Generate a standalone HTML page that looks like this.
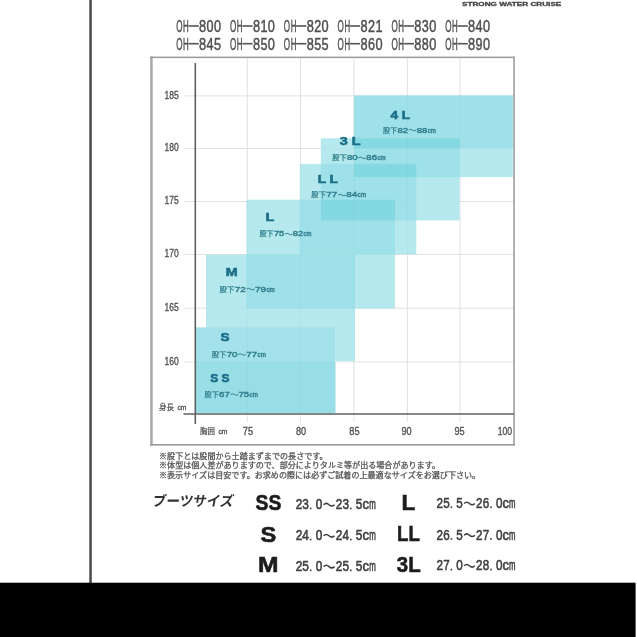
<!DOCTYPE html>
<html><head><meta charset="utf-8"><title>size chart</title>
<style>
html,body{margin:0;padding:0;background:#fff;}
body{width:637px;height:637px;overflow:hidden;}
svg{display:block;font-family:"Liberation Sans","Noto Sans CJK JP",sans-serif;}
</style></head><body>
<svg width="637" height="637" viewBox="0 0 637 637">
<g filter="url(#soft)">
<rect x="0" y="0" width="637" height="637" fill="#fff"/>
<line x1="247.3" y1="58.3" x2="247.3" y2="422.0" stroke="#e6e6e6" stroke-width="1"/>
<line x1="300.5" y1="58.3" x2="300.5" y2="422.0" stroke="#e6e6e6" stroke-width="1"/>
<line x1="353.9" y1="58.3" x2="353.9" y2="422.0" stroke="#e6e6e6" stroke-width="1"/>
<line x1="407.4" y1="58.3" x2="407.4" y2="422.0" stroke="#e6e6e6" stroke-width="1"/>
<line x1="460.0" y1="58.3" x2="460.0" y2="422.0" stroke="#e6e6e6" stroke-width="1"/>
<line x1="184.3" y1="95.9" x2="514.0" y2="95.9" stroke="#e6e6e6" stroke-width="1"/>
<line x1="184.3" y1="148.5" x2="514.0" y2="148.5" stroke="#e6e6e6" stroke-width="1"/>
<line x1="184.3" y1="201.5" x2="514.0" y2="201.5" stroke="#e6e6e6" stroke-width="1"/>
<line x1="184.3" y1="254.5" x2="514.0" y2="254.5" stroke="#e6e6e6" stroke-width="1"/>
<line x1="184.3" y1="308.2" x2="514.0" y2="308.2" stroke="#e6e6e6" stroke-width="1"/>
<line x1="184.3" y1="361.9" x2="514.0" y2="361.9" stroke="#e6e6e6" stroke-width="1"/>
<rect x="354.0" y="95.7" width="158.8" height="81.4" fill="#b5e9ee"/>
<rect x="320.8" y="138.3" width="138.8" height="82.1" fill="#b5e9ee"/>
<rect x="299.8" y="163.9" width="116.5" height="90.5" fill="#b5e9ee"/>
<rect x="246.5" y="199.7" width="148.5" height="108.9" fill="#b5e9ee"/>
<rect x="206.0" y="254.6" width="149.0" height="106.4" fill="#b5e9ee"/>
<rect x="354.0" y="95.7" width="158.8" height="52.5" fill="#b5e9ee"/>
<rect x="354.0" y="138.3" width="105.6" height="38.8" fill="#9fe1e9"/>
<rect x="354.0" y="163.9" width="62.3" height="13.2" fill="#9fe1e9"/>
<rect x="354.0" y="95.7" width="158.8" height="52.5" fill="#9fe1e9"/>
<rect x="320.8" y="163.9" width="95.5" height="56.5" fill="#9fe1e9"/>
<rect x="320.8" y="199.7" width="74.2" height="20.7" fill="#9fe1e9"/>
<rect x="354.0" y="138.3" width="105.6" height="9.9" fill="#9fe1e9"/>
<rect x="299.8" y="199.7" width="95.2" height="54.7" fill="#9fe1e9"/>
<rect x="246.5" y="254.6" width="108.5" height="54.0" fill="#9fe1e9"/>
<rect x="354.0" y="163.9" width="62.3" height="13.2" fill="#84d8e2"/>
<rect x="354.0" y="138.3" width="105.6" height="9.9" fill="#84d8e2"/>
<rect x="320.8" y="199.7" width="74.2" height="20.7" fill="#84d8e2"/>
<rect x="196" y="327.4" width="139" height="34.6" fill="#a3e2ea"/>
<rect x="196" y="361.8" width="139.5" height="51.5" fill="#99dee7"/>
<line x1="247.3" y1="58.3" x2="247.3" y2="414.0" stroke="#5b8f9c" stroke-opacity="0.05" stroke-width="1"/>
<line x1="300.5" y1="58.3" x2="300.5" y2="414.0" stroke="#5b8f9c" stroke-opacity="0.05" stroke-width="1"/>
<line x1="353.9" y1="58.3" x2="353.9" y2="414.0" stroke="#5b8f9c" stroke-opacity="0.05" stroke-width="1"/>
<line x1="407.4" y1="58.3" x2="407.4" y2="414.0" stroke="#5b8f9c" stroke-opacity="0.05" stroke-width="1"/>
<line x1="460.0" y1="58.3" x2="460.0" y2="414.0" stroke="#5b8f9c" stroke-opacity="0.05" stroke-width="1"/>
<line x1="195.3" y1="95.9" x2="514.0" y2="95.9" stroke="#5b8f9c" stroke-opacity="0.04" stroke-width="1"/>
<line x1="195.3" y1="148.5" x2="514.0" y2="148.5" stroke="#5b8f9c" stroke-opacity="0.04" stroke-width="1"/>
<line x1="195.3" y1="201.5" x2="514.0" y2="201.5" stroke="#5b8f9c" stroke-opacity="0.04" stroke-width="1"/>
<line x1="195.3" y1="254.5" x2="514.0" y2="254.5" stroke="#5b8f9c" stroke-opacity="0.04" stroke-width="1"/>
<line x1="195.3" y1="308.2" x2="514.0" y2="308.2" stroke="#5b8f9c" stroke-opacity="0.04" stroke-width="1"/>
<line x1="195.3" y1="361.9" x2="514.0" y2="361.9" stroke="#5b8f9c" stroke-opacity="0.04" stroke-width="1"/>
<rect x="150.2" y="56.6" width="2.5" height="389" fill="#a8a8a8"/>
<rect x="150.2" y="56.6" width="364.6" height="1.5" fill="#9a9a9a"/>
<rect x="513.2" y="56.6" width="1.7" height="389" fill="#a4a4a4"/>
<rect x="150.2" y="444.0" width="364.6" height="1.6" fill="#999"/>
<line x1="195.3" y1="63" x2="195.3" y2="424" stroke="#606060" stroke-width="1.6"/>
<line x1="183.5" y1="414.0" x2="514.0" y2="414.0" stroke="#606060" stroke-width="1.6"/>
<text x="164.5" y="98.5" font-size="11" fill="#505050" textLength="14.2" lengthAdjust="spacingAndGlyphs" text-anchor="start" stroke="#505050" stroke-width="0.35">185</text>
<text x="164.5" y="151.1" font-size="11" fill="#505050" textLength="14.2" lengthAdjust="spacingAndGlyphs" text-anchor="start" stroke="#505050" stroke-width="0.35">180</text>
<text x="164.5" y="204.1" font-size="11" fill="#505050" textLength="14.2" lengthAdjust="spacingAndGlyphs" text-anchor="start" stroke="#505050" stroke-width="0.35">175</text>
<text x="164.5" y="257.1" font-size="11" fill="#505050" textLength="14.2" lengthAdjust="spacingAndGlyphs" text-anchor="start" stroke="#505050" stroke-width="0.35">170</text>
<text x="164.5" y="310.8" font-size="11" fill="#505050" textLength="14.2" lengthAdjust="spacingAndGlyphs" text-anchor="start" stroke="#505050" stroke-width="0.35">165</text>
<text x="164.5" y="364.5" font-size="11" fill="#505050" textLength="14.2" lengthAdjust="spacingAndGlyphs" text-anchor="start" stroke="#505050" stroke-width="0.35">160</text>
<text x="242.8" y="434.7" font-size="11" fill="#505050" textLength="10.2" lengthAdjust="spacingAndGlyphs" text-anchor="start" stroke="#505050" stroke-width="0.35">75</text>
<text x="295.9" y="434.7" font-size="11" fill="#505050" textLength="10.2" lengthAdjust="spacingAndGlyphs" text-anchor="start" stroke="#505050" stroke-width="0.35">80</text>
<text x="349.3" y="434.7" font-size="11" fill="#505050" textLength="10.2" lengthAdjust="spacingAndGlyphs" text-anchor="start" stroke="#505050" stroke-width="0.35">85</text>
<text x="401.5" y="434.7" font-size="11" fill="#505050" textLength="10.2" lengthAdjust="spacingAndGlyphs" text-anchor="start" stroke="#505050" stroke-width="0.35">90</text>
<text x="454.5" y="434.7" font-size="11" fill="#505050" textLength="10.2" lengthAdjust="spacingAndGlyphs" text-anchor="start" stroke="#505050" stroke-width="0.35">95</text>
<text x="497.7" y="434.6" font-size="11" fill="#505050" textLength="14.4" lengthAdjust="spacingAndGlyphs" text-anchor="start" stroke="#505050" stroke-width="0.35">100</text>
<text x="159" y="409.6" font-size="7.8" fill="#505050" stroke="#505050" stroke-width="0.2" textLength="15" lengthAdjust="spacingAndGlyphs" font-family="'Liberation Sans','Noto Sans CJK JP',sans-serif">身長</text>
<text x="177.5" y="409.6" font-size="7" fill="#505050" textLength="9" lengthAdjust="spacingAndGlyphs" text-anchor="start" stroke="#505050" stroke-width="0.3">cm</text>
<text x="200" y="434" font-size="7.8" fill="#505050" stroke="#505050" stroke-width="0.2" textLength="15" lengthAdjust="spacingAndGlyphs" font-family="'Liberation Sans','Noto Sans CJK JP',sans-serif">胸囲</text>
<text x="218.5" y="434" font-size="7" fill="#505050" textLength="9" lengthAdjust="spacingAndGlyphs" text-anchor="start" stroke="#505050" stroke-width="0.3">cm</text>
<text x="390.5" y="118.8" font-size="11.2" fill="#1d6f88" textLength="19.6" lengthAdjust="spacingAndGlyphs" font-weight="700" text-anchor="start" stroke="#1d6f88" stroke-width="0.6">4 L</text>
<text x="382.9" y="132.5" font-size="7" fill="#35808f" stroke="#35808f" stroke-width="0.25" textLength="14.2" lengthAdjust="spacingAndGlyphs" font-family="'Liberation Sans','Noto Sans CJK JP',sans-serif">股下</text>
<text x="397.4" y="132.5" font-size="7.4" fill="#35808f" textLength="10.6" lengthAdjust="spacingAndGlyphs" text-anchor="start" stroke="#35808f" stroke-width="0.45">82</text>
<path d="M408.72 130.10 q1.92 -1.6 3.85 0 t3.85 0" fill="none" stroke="#35808f" stroke-width="1"/>
<text x="416.7" y="132.5" font-size="7.4" fill="#35808f" textLength="10.6" lengthAdjust="spacingAndGlyphs" text-anchor="start" stroke="#35808f" stroke-width="0.45">88</text>
<text x="427.7" y="132.5" font-size="6.6" fill="#35808f" textLength="8.0" lengthAdjust="spacingAndGlyphs" text-anchor="start" stroke="#35808f" stroke-width="0.45">cm</text>
<text x="339.8" y="145.2" font-size="11.2" fill="#1d6f88" textLength="20.8" lengthAdjust="spacingAndGlyphs" font-weight="700" text-anchor="start" stroke="#1d6f88" stroke-width="0.6">3 L</text>
<text x="332.2" y="160.2" font-size="7" fill="#35808f" stroke="#35808f" stroke-width="0.25" textLength="14.4" lengthAdjust="spacingAndGlyphs" font-family="'Liberation Sans','Noto Sans CJK JP',sans-serif">股下</text>
<text x="346.9" y="160.2" font-size="7.4" fill="#35808f" textLength="10.7" lengthAdjust="spacingAndGlyphs" text-anchor="start" stroke="#35808f" stroke-width="0.45">80</text>
<path d="M358.26 157.80 q1.94 -1.6 3.88 0 t3.88 0" fill="none" stroke="#35808f" stroke-width="1"/>
<text x="366.3" y="160.2" font-size="7.4" fill="#35808f" textLength="10.7" lengthAdjust="spacingAndGlyphs" text-anchor="start" stroke="#35808f" stroke-width="0.45">86</text>
<text x="377.4" y="160.2" font-size="6.6" fill="#35808f" textLength="8.1" lengthAdjust="spacingAndGlyphs" text-anchor="start" stroke="#35808f" stroke-width="0.45">cm</text>
<text x="317.7" y="183.3" font-size="11.2" fill="#1d6f88" textLength="20.3" lengthAdjust="spacingAndGlyphs" font-weight="700" text-anchor="start" stroke="#1d6f88" stroke-width="0.6">L L</text>
<text x="311.3" y="197.4" font-size="7" fill="#35808f" stroke="#35808f" stroke-width="0.25" textLength="14.7" lengthAdjust="spacingAndGlyphs" font-family="'Liberation Sans','Noto Sans CJK JP',sans-serif">股下</text>
<text x="326.3" y="197.4" font-size="7.4" fill="#35808f" textLength="11.0" lengthAdjust="spacingAndGlyphs" text-anchor="start" stroke="#35808f" stroke-width="0.45">77</text>
<path d="M337.98 195.00 q1.99 -1.6 3.98 0 t3.98 0" fill="none" stroke="#35808f" stroke-width="1"/>
<text x="346.2" y="197.4" font-size="7.4" fill="#35808f" textLength="11.0" lengthAdjust="spacingAndGlyphs" text-anchor="start" stroke="#35808f" stroke-width="0.45">84</text>
<text x="357.6" y="197.4" font-size="6.6" fill="#35808f" textLength="8.3" lengthAdjust="spacingAndGlyphs" text-anchor="start" stroke="#35808f" stroke-width="0.45">cm</text>
<text x="265.5" y="221.2" font-size="11.2" fill="#1d6f88" textLength="8.8" lengthAdjust="spacingAndGlyphs" font-weight="700" text-anchor="start" stroke="#1d6f88" stroke-width="0.6">L</text>
<text x="259.6" y="236.4" font-size="7" fill="#35808f" stroke="#35808f" stroke-width="0.25" textLength="14" lengthAdjust="spacingAndGlyphs" font-family="'Liberation Sans','Noto Sans CJK JP',sans-serif">股下</text>
<text x="273.9" y="236.4" font-size="7.4" fill="#35808f" textLength="10.4" lengthAdjust="spacingAndGlyphs" text-anchor="start" stroke="#35808f" stroke-width="0.45">75</text>
<path d="M284.99 234.00 q1.89 -1.6 3.78 0 t3.78 0" fill="none" stroke="#35808f" stroke-width="1"/>
<text x="292.8" y="236.4" font-size="7.4" fill="#35808f" textLength="10.4" lengthAdjust="spacingAndGlyphs" text-anchor="start" stroke="#35808f" stroke-width="0.45">82</text>
<text x="303.6" y="236.4" font-size="6.6" fill="#35808f" textLength="7.9" lengthAdjust="spacingAndGlyphs" text-anchor="start" stroke="#35808f" stroke-width="0.45">cm</text>
<text x="225.7" y="276.3" font-size="11.2" fill="#1d6f88" textLength="11.9" lengthAdjust="spacingAndGlyphs" font-weight="700" text-anchor="start" stroke="#1d6f88" stroke-width="0.6">M</text>
<text x="219.6" y="291.5" font-size="7" fill="#35808f" stroke="#35808f" stroke-width="0.25" textLength="14.8" lengthAdjust="spacingAndGlyphs" font-family="'Liberation Sans','Noto Sans CJK JP',sans-serif">股下</text>
<text x="234.8" y="291.5" font-size="7.4" fill="#35808f" textLength="11.1" lengthAdjust="spacingAndGlyphs" text-anchor="start" stroke="#35808f" stroke-width="0.45">72</text>
<path d="M246.57 289.10 q2.01 -1.6 4.02 0 t4.02 0" fill="none" stroke="#35808f" stroke-width="1"/>
<text x="254.9" y="291.5" font-size="7.4" fill="#35808f" textLength="11.1" lengthAdjust="spacingAndGlyphs" text-anchor="start" stroke="#35808f" stroke-width="0.45">79</text>
<text x="266.4" y="291.5" font-size="6.6" fill="#35808f" textLength="8.4" lengthAdjust="spacingAndGlyphs" text-anchor="start" stroke="#35808f" stroke-width="0.45">cm</text>
<text x="220.4" y="341.2" font-size="11.2" fill="#1d6f88" textLength="9.0" lengthAdjust="spacingAndGlyphs" font-weight="700" text-anchor="start" stroke="#1d6f88" stroke-width="0.6">S</text>
<text x="211.8" y="356.9" font-size="7" fill="#35808f" stroke="#35808f" stroke-width="0.25" textLength="14.6" lengthAdjust="spacingAndGlyphs" font-family="'Liberation Sans','Noto Sans CJK JP',sans-serif">股下</text>
<text x="226.7" y="356.9" font-size="7.4" fill="#35808f" textLength="10.8" lengthAdjust="spacingAndGlyphs" text-anchor="start" stroke="#35808f" stroke-width="0.45">70</text>
<path d="M238.20 354.50 q1.97 -1.6 3.93 0 t3.93 0" fill="none" stroke="#35808f" stroke-width="1"/>
<text x="246.3" y="356.9" font-size="7.4" fill="#35808f" textLength="10.8" lengthAdjust="spacingAndGlyphs" text-anchor="start" stroke="#35808f" stroke-width="0.45">77</text>
<text x="257.6" y="356.9" font-size="6.6" fill="#35808f" textLength="8.2" lengthAdjust="spacingAndGlyphs" text-anchor="start" stroke="#35808f" stroke-width="0.45">cm</text>
<text x="210.2" y="382.1" font-size="11.2" fill="#1d6f88" textLength="19.2" lengthAdjust="spacingAndGlyphs" font-weight="700" text-anchor="start" stroke="#1d6f88" stroke-width="0.6">S S</text>
<text x="204.5" y="396.9" font-size="7" fill="#35808f" stroke="#35808f" stroke-width="0.25" textLength="14.4" lengthAdjust="spacingAndGlyphs" font-family="'Liberation Sans','Noto Sans CJK JP',sans-serif">股下</text>
<text x="219.1" y="396.9" font-size="7.4" fill="#35808f" textLength="10.7" lengthAdjust="spacingAndGlyphs" text-anchor="start" stroke="#35808f" stroke-width="0.45">67</text>
<path d="M230.51 394.50 q1.94 -1.6 3.88 0 t3.88 0" fill="none" stroke="#35808f" stroke-width="1"/>
<text x="238.5" y="396.9" font-size="7.4" fill="#35808f" textLength="10.7" lengthAdjust="spacingAndGlyphs" text-anchor="start" stroke="#35808f" stroke-width="0.45">75</text>
<text x="249.6" y="396.9" font-size="6.6" fill="#35808f" textLength="8.1" lengthAdjust="spacingAndGlyphs" text-anchor="start" stroke="#35808f" stroke-width="0.45">cm</text>
<text x="176.20" y="31.8" font-size="16.6" fill="#505050" stroke="#505050" stroke-width="0.5" textLength="6.30" lengthAdjust="spacingAndGlyphs">O</text><text x="183.05" y="31.8" font-size="16.6" fill="#505050" stroke="#505050" stroke-width="0.5" textLength="5.70" lengthAdjust="spacingAndGlyphs">H</text><rect x="188.50" y="25.20" width="10.30" height="1.6" fill="#555"/><text x="199.10" y="31.8" font-size="16.6" fill="#505050" stroke="#505050" stroke-width="0.5" textLength="7.10" lengthAdjust="spacingAndGlyphs">8</text><text x="206.60" y="31.8" font-size="16.6" fill="#505050" stroke="#505050" stroke-width="0.5" textLength="7.00" lengthAdjust="spacingAndGlyphs">0</text><text x="214.00" y="31.8" font-size="16.6" fill="#505050" stroke="#505050" stroke-width="0.5" textLength="7.10" lengthAdjust="spacingAndGlyphs">0</text>
<text x="230.00" y="31.8" font-size="16.6" fill="#505050" stroke="#505050" stroke-width="0.5" textLength="6.30" lengthAdjust="spacingAndGlyphs">O</text><text x="236.85" y="31.8" font-size="16.6" fill="#505050" stroke="#505050" stroke-width="0.5" textLength="5.70" lengthAdjust="spacingAndGlyphs">H</text><rect x="242.30" y="25.20" width="10.30" height="1.6" fill="#555"/><text x="252.90" y="31.8" font-size="16.6" fill="#505050" stroke="#505050" stroke-width="0.5" textLength="7.10" lengthAdjust="spacingAndGlyphs">8</text><text x="260.40" y="31.8" font-size="16.6" fill="#505050" stroke="#505050" stroke-width="0.5" textLength="7.00" lengthAdjust="spacingAndGlyphs">1</text><text x="267.80" y="31.8" font-size="16.6" fill="#505050" stroke="#505050" stroke-width="0.5" textLength="7.10" lengthAdjust="spacingAndGlyphs">0</text>
<text x="283.80" y="31.8" font-size="16.6" fill="#505050" stroke="#505050" stroke-width="0.5" textLength="6.30" lengthAdjust="spacingAndGlyphs">O</text><text x="290.65" y="31.8" font-size="16.6" fill="#505050" stroke="#505050" stroke-width="0.5" textLength="5.70" lengthAdjust="spacingAndGlyphs">H</text><rect x="296.10" y="25.20" width="10.30" height="1.6" fill="#555"/><text x="306.70" y="31.8" font-size="16.6" fill="#505050" stroke="#505050" stroke-width="0.5" textLength="7.10" lengthAdjust="spacingAndGlyphs">8</text><text x="314.20" y="31.8" font-size="16.6" fill="#505050" stroke="#505050" stroke-width="0.5" textLength="7.00" lengthAdjust="spacingAndGlyphs">2</text><text x="321.60" y="31.8" font-size="16.6" fill="#505050" stroke="#505050" stroke-width="0.5" textLength="7.10" lengthAdjust="spacingAndGlyphs">0</text>
<text x="337.60" y="31.8" font-size="16.6" fill="#505050" stroke="#505050" stroke-width="0.5" textLength="6.30" lengthAdjust="spacingAndGlyphs">O</text><text x="344.45" y="31.8" font-size="16.6" fill="#505050" stroke="#505050" stroke-width="0.5" textLength="5.70" lengthAdjust="spacingAndGlyphs">H</text><rect x="349.90" y="25.20" width="10.30" height="1.6" fill="#555"/><text x="360.50" y="31.8" font-size="16.6" fill="#505050" stroke="#505050" stroke-width="0.5" textLength="7.10" lengthAdjust="spacingAndGlyphs">8</text><text x="368.00" y="31.8" font-size="16.6" fill="#505050" stroke="#505050" stroke-width="0.5" textLength="7.00" lengthAdjust="spacingAndGlyphs">2</text><text x="375.40" y="31.8" font-size="16.6" fill="#505050" stroke="#505050" stroke-width="0.5" textLength="7.10" lengthAdjust="spacingAndGlyphs">1</text>
<text x="391.40" y="31.8" font-size="16.6" fill="#505050" stroke="#505050" stroke-width="0.5" textLength="6.30" lengthAdjust="spacingAndGlyphs">O</text><text x="398.25" y="31.8" font-size="16.6" fill="#505050" stroke="#505050" stroke-width="0.5" textLength="5.70" lengthAdjust="spacingAndGlyphs">H</text><rect x="403.70" y="25.20" width="10.30" height="1.6" fill="#555"/><text x="414.30" y="31.8" font-size="16.6" fill="#505050" stroke="#505050" stroke-width="0.5" textLength="7.10" lengthAdjust="spacingAndGlyphs">8</text><text x="421.80" y="31.8" font-size="16.6" fill="#505050" stroke="#505050" stroke-width="0.5" textLength="7.00" lengthAdjust="spacingAndGlyphs">3</text><text x="429.20" y="31.8" font-size="16.6" fill="#505050" stroke="#505050" stroke-width="0.5" textLength="7.10" lengthAdjust="spacingAndGlyphs">0</text>
<text x="445.20" y="31.8" font-size="16.6" fill="#505050" stroke="#505050" stroke-width="0.5" textLength="6.30" lengthAdjust="spacingAndGlyphs">O</text><text x="452.05" y="31.8" font-size="16.6" fill="#505050" stroke="#505050" stroke-width="0.5" textLength="5.70" lengthAdjust="spacingAndGlyphs">H</text><rect x="457.50" y="25.20" width="10.30" height="1.6" fill="#555"/><text x="468.10" y="31.8" font-size="16.6" fill="#505050" stroke="#505050" stroke-width="0.5" textLength="7.10" lengthAdjust="spacingAndGlyphs">8</text><text x="475.60" y="31.8" font-size="16.6" fill="#505050" stroke="#505050" stroke-width="0.5" textLength="7.00" lengthAdjust="spacingAndGlyphs">4</text><text x="483.00" y="31.8" font-size="16.6" fill="#505050" stroke="#505050" stroke-width="0.5" textLength="7.10" lengthAdjust="spacingAndGlyphs">0</text>
<text x="176.20" y="49.5" font-size="16.6" fill="#505050" stroke="#505050" stroke-width="0.5" textLength="6.30" lengthAdjust="spacingAndGlyphs">O</text><text x="183.05" y="49.5" font-size="16.6" fill="#505050" stroke="#505050" stroke-width="0.5" textLength="5.70" lengthAdjust="spacingAndGlyphs">H</text><rect x="188.50" y="42.90" width="10.30" height="1.6" fill="#555"/><text x="199.10" y="49.5" font-size="16.6" fill="#505050" stroke="#505050" stroke-width="0.5" textLength="7.10" lengthAdjust="spacingAndGlyphs">8</text><text x="206.60" y="49.5" font-size="16.6" fill="#505050" stroke="#505050" stroke-width="0.5" textLength="7.00" lengthAdjust="spacingAndGlyphs">4</text><text x="214.00" y="49.5" font-size="16.6" fill="#505050" stroke="#505050" stroke-width="0.5" textLength="7.10" lengthAdjust="spacingAndGlyphs">5</text>
<text x="230.00" y="49.5" font-size="16.6" fill="#505050" stroke="#505050" stroke-width="0.5" textLength="6.30" lengthAdjust="spacingAndGlyphs">O</text><text x="236.85" y="49.5" font-size="16.6" fill="#505050" stroke="#505050" stroke-width="0.5" textLength="5.70" lengthAdjust="spacingAndGlyphs">H</text><rect x="242.30" y="42.90" width="10.30" height="1.6" fill="#555"/><text x="252.90" y="49.5" font-size="16.6" fill="#505050" stroke="#505050" stroke-width="0.5" textLength="7.10" lengthAdjust="spacingAndGlyphs">8</text><text x="260.40" y="49.5" font-size="16.6" fill="#505050" stroke="#505050" stroke-width="0.5" textLength="7.00" lengthAdjust="spacingAndGlyphs">5</text><text x="267.80" y="49.5" font-size="16.6" fill="#505050" stroke="#505050" stroke-width="0.5" textLength="7.10" lengthAdjust="spacingAndGlyphs">0</text>
<text x="283.80" y="49.5" font-size="16.6" fill="#505050" stroke="#505050" stroke-width="0.5" textLength="6.30" lengthAdjust="spacingAndGlyphs">O</text><text x="290.65" y="49.5" font-size="16.6" fill="#505050" stroke="#505050" stroke-width="0.5" textLength="5.70" lengthAdjust="spacingAndGlyphs">H</text><rect x="296.10" y="42.90" width="10.30" height="1.6" fill="#555"/><text x="306.70" y="49.5" font-size="16.6" fill="#505050" stroke="#505050" stroke-width="0.5" textLength="7.10" lengthAdjust="spacingAndGlyphs">8</text><text x="314.20" y="49.5" font-size="16.6" fill="#505050" stroke="#505050" stroke-width="0.5" textLength="7.00" lengthAdjust="spacingAndGlyphs">5</text><text x="321.60" y="49.5" font-size="16.6" fill="#505050" stroke="#505050" stroke-width="0.5" textLength="7.10" lengthAdjust="spacingAndGlyphs">5</text>
<text x="337.60" y="49.5" font-size="16.6" fill="#505050" stroke="#505050" stroke-width="0.5" textLength="6.30" lengthAdjust="spacingAndGlyphs">O</text><text x="344.45" y="49.5" font-size="16.6" fill="#505050" stroke="#505050" stroke-width="0.5" textLength="5.70" lengthAdjust="spacingAndGlyphs">H</text><rect x="349.90" y="42.90" width="10.30" height="1.6" fill="#555"/><text x="360.50" y="49.5" font-size="16.6" fill="#505050" stroke="#505050" stroke-width="0.5" textLength="7.10" lengthAdjust="spacingAndGlyphs">8</text><text x="368.00" y="49.5" font-size="16.6" fill="#505050" stroke="#505050" stroke-width="0.5" textLength="7.00" lengthAdjust="spacingAndGlyphs">6</text><text x="375.40" y="49.5" font-size="16.6" fill="#505050" stroke="#505050" stroke-width="0.5" textLength="7.10" lengthAdjust="spacingAndGlyphs">0</text>
<text x="391.40" y="49.5" font-size="16.6" fill="#505050" stroke="#505050" stroke-width="0.5" textLength="6.30" lengthAdjust="spacingAndGlyphs">O</text><text x="398.25" y="49.5" font-size="16.6" fill="#505050" stroke="#505050" stroke-width="0.5" textLength="5.70" lengthAdjust="spacingAndGlyphs">H</text><rect x="403.70" y="42.90" width="10.30" height="1.6" fill="#555"/><text x="414.30" y="49.5" font-size="16.6" fill="#505050" stroke="#505050" stroke-width="0.5" textLength="7.10" lengthAdjust="spacingAndGlyphs">8</text><text x="421.80" y="49.5" font-size="16.6" fill="#505050" stroke="#505050" stroke-width="0.5" textLength="7.00" lengthAdjust="spacingAndGlyphs">8</text><text x="429.20" y="49.5" font-size="16.6" fill="#505050" stroke="#505050" stroke-width="0.5" textLength="7.10" lengthAdjust="spacingAndGlyphs">0</text>
<text x="445.20" y="49.5" font-size="16.6" fill="#505050" stroke="#505050" stroke-width="0.5" textLength="6.30" lengthAdjust="spacingAndGlyphs">O</text><text x="452.05" y="49.5" font-size="16.6" fill="#505050" stroke="#505050" stroke-width="0.5" textLength="5.70" lengthAdjust="spacingAndGlyphs">H</text><rect x="457.50" y="42.90" width="10.30" height="1.6" fill="#555"/><text x="468.10" y="49.5" font-size="16.6" fill="#505050" stroke="#505050" stroke-width="0.5" textLength="7.10" lengthAdjust="spacingAndGlyphs">8</text><text x="475.60" y="49.5" font-size="16.6" fill="#505050" stroke="#505050" stroke-width="0.5" textLength="7.00" lengthAdjust="spacingAndGlyphs">9</text><text x="483.00" y="49.5" font-size="16.6" fill="#505050" stroke="#505050" stroke-width="0.5" textLength="7.10" lengthAdjust="spacingAndGlyphs">0</text>
<text x="462" y="5.5" font-size="5.6" fill="#444" textLength="99.3" lengthAdjust="spacingAndGlyphs" font-weight="700" text-anchor="start" stroke="#444" stroke-width="0.3">STRONG WATER CRUISE</text>
<text x="159" y="459" font-size="7.5" fill="#505050" stroke="#505050" stroke-width="0.25" textLength="168.6" lengthAdjust="spacingAndGlyphs" font-family="'Liberation Sans','Noto Sans CJK JP',sans-serif">※股下とは股間から土踏まずまでの長さです。</text>
<text x="159" y="468.3" font-size="7.5" fill="#505050" stroke="#505050" stroke-width="0.25" textLength="281" lengthAdjust="spacingAndGlyphs" font-family="'Liberation Sans','Noto Sans CJK JP',sans-serif">※体型は個人差がありますので、部分によりタルミ等が出る場合があります。</text>
<text x="159" y="477.5" font-size="7.5" fill="#505050" stroke="#505050" stroke-width="0.25" textLength="321.2" lengthAdjust="spacingAndGlyphs" font-family="'Liberation Sans','Noto Sans CJK JP',sans-serif">※表示サイズは目安です。お求めの際には必ずご試着の上最適なサイズをお選び下さい。</text>
<text transform="translate(151.8 505.6) skewX(-10)" x="0" y="0" font-size="14" font-weight="700" fill="#333" textLength="81" lengthAdjust="spacingAndGlyphs" font-family="'Liberation Sans','Noto Sans CJK JP',sans-serif">ブーツサイズ</text>
<text x="255.6" y="510.4" font-size="22.6" fill="#1e1e1e" textLength="25.8" lengthAdjust="spacingAndGlyphs" font-weight="700" text-anchor="start" stroke="#1e1e1e" stroke-width="0.6">SS</text>
<text x="260.6" y="541.9" font-size="22.6" fill="#1e1e1e" textLength="15.8" lengthAdjust="spacingAndGlyphs" font-weight="700" text-anchor="start" stroke="#1e1e1e" stroke-width="0.6">S</text>
<text x="257.9" y="572.3" font-size="22.6" fill="#1e1e1e" textLength="20.5" lengthAdjust="spacingAndGlyphs" font-weight="700" text-anchor="start" stroke="#1e1e1e" stroke-width="0.6">M</text>
<text x="401.6" y="510.0" font-size="22.6" fill="#1e1e1e" textLength="13.8" lengthAdjust="spacingAndGlyphs" font-weight="700" text-anchor="start" stroke="#1e1e1e" stroke-width="0.6">L</text>
<text x="397.1" y="541.0" font-size="22.6" fill="#1e1e1e" textLength="22.8" lengthAdjust="spacingAndGlyphs" font-weight="700" text-anchor="start" stroke="#1e1e1e" stroke-width="0.6">LL</text>
<text x="396.8" y="571.9" font-size="22.6" fill="#1e1e1e" textLength="23.8" lengthAdjust="spacingAndGlyphs" font-weight="700" text-anchor="start" stroke="#1e1e1e" stroke-width="0.6">3L</text>
<text x="295.65" y="509.3" font-size="14.4" fill="#404040" stroke="#404040" stroke-width="0.6" textLength="6.58" lengthAdjust="spacingAndGlyphs">2</text><text x="302.33" y="509.3" font-size="14.4" fill="#404040" stroke="#404040" stroke-width="0.6" textLength="6.58" lengthAdjust="spacingAndGlyphs">3</text><rect x="309.87" y="507.60" width="1.6" height="1.7" fill="#404040"/><text x="315.70" y="509.3" font-size="14.4" fill="#404040" stroke="#404040" stroke-width="0.6" textLength="6.58" lengthAdjust="spacingAndGlyphs">0</text><path d="M323.53 504.70 q2.74 -2.6 5.48 0 t5.48 0" fill="none" stroke="#404040" stroke-width="1.5"/><text x="335.75" y="509.3" font-size="14.4" fill="#404040" stroke="#404040" stroke-width="0.6" textLength="6.58" lengthAdjust="spacingAndGlyphs">2</text><text x="342.43" y="509.3" font-size="14.4" fill="#404040" stroke="#404040" stroke-width="0.6" textLength="6.58" lengthAdjust="spacingAndGlyphs">3</text><rect x="349.97" y="507.60" width="1.6" height="1.7" fill="#404040"/><text x="355.80" y="509.3" font-size="14.4" fill="#404040" stroke="#404040" stroke-width="0.6" textLength="6.58" lengthAdjust="spacingAndGlyphs">5</text><text x="362.48" y="509.3" font-size="14.4" fill="#404040" stroke="#404040" stroke-width="0.6" textLength="6.58" lengthAdjust="spacingAndGlyphs">c</text><text x="369.17" y="509.3" font-size="14.4" fill="#404040" stroke="#404040" stroke-width="0.6" textLength="6.58" lengthAdjust="spacingAndGlyphs">m</text>
<text x="295.65" y="540.4" font-size="14.4" fill="#404040" stroke="#404040" stroke-width="0.6" textLength="6.58" lengthAdjust="spacingAndGlyphs">2</text><text x="302.33" y="540.4" font-size="14.4" fill="#404040" stroke="#404040" stroke-width="0.6" textLength="6.58" lengthAdjust="spacingAndGlyphs">4</text><rect x="309.87" y="538.70" width="1.6" height="1.7" fill="#404040"/><text x="315.70" y="540.4" font-size="14.4" fill="#404040" stroke="#404040" stroke-width="0.6" textLength="6.58" lengthAdjust="spacingAndGlyphs">0</text><path d="M323.53 535.80 q2.74 -2.6 5.48 0 t5.48 0" fill="none" stroke="#404040" stroke-width="1.5"/><text x="335.75" y="540.4" font-size="14.4" fill="#404040" stroke="#404040" stroke-width="0.6" textLength="6.58" lengthAdjust="spacingAndGlyphs">2</text><text x="342.43" y="540.4" font-size="14.4" fill="#404040" stroke="#404040" stroke-width="0.6" textLength="6.58" lengthAdjust="spacingAndGlyphs">4</text><rect x="349.97" y="538.70" width="1.6" height="1.7" fill="#404040"/><text x="355.80" y="540.4" font-size="14.4" fill="#404040" stroke="#404040" stroke-width="0.6" textLength="6.58" lengthAdjust="spacingAndGlyphs">5</text><text x="362.48" y="540.4" font-size="14.4" fill="#404040" stroke="#404040" stroke-width="0.6" textLength="6.58" lengthAdjust="spacingAndGlyphs">c</text><text x="369.17" y="540.4" font-size="14.4" fill="#404040" stroke="#404040" stroke-width="0.6" textLength="6.58" lengthAdjust="spacingAndGlyphs">m</text>
<text x="295.65" y="571.2" font-size="14.4" fill="#404040" stroke="#404040" stroke-width="0.6" textLength="6.58" lengthAdjust="spacingAndGlyphs">2</text><text x="302.33" y="571.2" font-size="14.4" fill="#404040" stroke="#404040" stroke-width="0.6" textLength="6.58" lengthAdjust="spacingAndGlyphs">5</text><rect x="309.87" y="569.50" width="1.6" height="1.7" fill="#404040"/><text x="315.70" y="571.2" font-size="14.4" fill="#404040" stroke="#404040" stroke-width="0.6" textLength="6.58" lengthAdjust="spacingAndGlyphs">0</text><path d="M323.53 566.60 q2.74 -2.6 5.48 0 t5.48 0" fill="none" stroke="#404040" stroke-width="1.5"/><text x="335.75" y="571.2" font-size="14.4" fill="#404040" stroke="#404040" stroke-width="0.6" textLength="6.58" lengthAdjust="spacingAndGlyphs">2</text><text x="342.43" y="571.2" font-size="14.4" fill="#404040" stroke="#404040" stroke-width="0.6" textLength="6.58" lengthAdjust="spacingAndGlyphs">5</text><rect x="349.97" y="569.50" width="1.6" height="1.7" fill="#404040"/><text x="355.80" y="571.2" font-size="14.4" fill="#404040" stroke="#404040" stroke-width="0.6" textLength="6.58" lengthAdjust="spacingAndGlyphs">5</text><text x="362.48" y="571.2" font-size="14.4" fill="#404040" stroke="#404040" stroke-width="0.6" textLength="6.58" lengthAdjust="spacingAndGlyphs">c</text><text x="369.17" y="571.2" font-size="14.4" fill="#404040" stroke="#404040" stroke-width="0.6" textLength="6.58" lengthAdjust="spacingAndGlyphs">m</text>
<text x="436.55" y="508.1" font-size="14.4" fill="#404040" stroke="#404040" stroke-width="0.6" textLength="6.49" lengthAdjust="spacingAndGlyphs">2</text><text x="443.14" y="508.1" font-size="14.4" fill="#404040" stroke="#404040" stroke-width="0.6" textLength="6.49" lengthAdjust="spacingAndGlyphs">5</text><rect x="450.58" y="506.40" width="1.6" height="1.7" fill="#404040"/><text x="456.32" y="508.1" font-size="14.4" fill="#404040" stroke="#404040" stroke-width="0.6" textLength="6.49" lengthAdjust="spacingAndGlyphs">5</text><path d="M464.07 503.50 q2.70 -2.6 5.39 0 t5.39 0" fill="none" stroke="#404040" stroke-width="1.5"/><text x="476.10" y="508.1" font-size="14.4" fill="#404040" stroke="#404040" stroke-width="0.6" textLength="6.49" lengthAdjust="spacingAndGlyphs">2</text><text x="482.69" y="508.1" font-size="14.4" fill="#404040" stroke="#404040" stroke-width="0.6" textLength="6.49" lengthAdjust="spacingAndGlyphs">6</text><rect x="490.13" y="506.40" width="1.6" height="1.7" fill="#404040"/><text x="495.88" y="508.1" font-size="14.4" fill="#404040" stroke="#404040" stroke-width="0.6" textLength="6.49" lengthAdjust="spacingAndGlyphs">0</text><text x="502.47" y="508.1" font-size="14.4" fill="#404040" stroke="#404040" stroke-width="0.6" textLength="6.49" lengthAdjust="spacingAndGlyphs">c</text><text x="509.06" y="508.1" font-size="14.4" fill="#404040" stroke="#404040" stroke-width="0.6" textLength="6.49" lengthAdjust="spacingAndGlyphs">m</text>
<text x="436.55" y="539.8" font-size="14.4" fill="#404040" stroke="#404040" stroke-width="0.6" textLength="6.49" lengthAdjust="spacingAndGlyphs">2</text><text x="443.14" y="539.8" font-size="14.4" fill="#404040" stroke="#404040" stroke-width="0.6" textLength="6.49" lengthAdjust="spacingAndGlyphs">6</text><rect x="450.58" y="538.10" width="1.6" height="1.7" fill="#404040"/><text x="456.32" y="539.8" font-size="14.4" fill="#404040" stroke="#404040" stroke-width="0.6" textLength="6.49" lengthAdjust="spacingAndGlyphs">5</text><path d="M464.07 535.20 q2.70 -2.6 5.39 0 t5.39 0" fill="none" stroke="#404040" stroke-width="1.5"/><text x="476.10" y="539.8" font-size="14.4" fill="#404040" stroke="#404040" stroke-width="0.6" textLength="6.49" lengthAdjust="spacingAndGlyphs">2</text><text x="482.69" y="539.8" font-size="14.4" fill="#404040" stroke="#404040" stroke-width="0.6" textLength="6.49" lengthAdjust="spacingAndGlyphs">7</text><rect x="490.13" y="538.10" width="1.6" height="1.7" fill="#404040"/><text x="495.88" y="539.8" font-size="14.4" fill="#404040" stroke="#404040" stroke-width="0.6" textLength="6.49" lengthAdjust="spacingAndGlyphs">0</text><text x="502.47" y="539.8" font-size="14.4" fill="#404040" stroke="#404040" stroke-width="0.6" textLength="6.49" lengthAdjust="spacingAndGlyphs">c</text><text x="509.06" y="539.8" font-size="14.4" fill="#404040" stroke="#404040" stroke-width="0.6" textLength="6.49" lengthAdjust="spacingAndGlyphs">m</text>
<text x="436.55" y="570.4" font-size="14.4" fill="#404040" stroke="#404040" stroke-width="0.6" textLength="6.49" lengthAdjust="spacingAndGlyphs">2</text><text x="443.14" y="570.4" font-size="14.4" fill="#404040" stroke="#404040" stroke-width="0.6" textLength="6.49" lengthAdjust="spacingAndGlyphs">7</text><rect x="450.58" y="568.70" width="1.6" height="1.7" fill="#404040"/><text x="456.32" y="570.4" font-size="14.4" fill="#404040" stroke="#404040" stroke-width="0.6" textLength="6.49" lengthAdjust="spacingAndGlyphs">0</text><path d="M464.07 565.80 q2.70 -2.6 5.39 0 t5.39 0" fill="none" stroke="#404040" stroke-width="1.5"/><text x="476.10" y="570.4" font-size="14.4" fill="#404040" stroke="#404040" stroke-width="0.6" textLength="6.49" lengthAdjust="spacingAndGlyphs">2</text><text x="482.69" y="570.4" font-size="14.4" fill="#404040" stroke="#404040" stroke-width="0.6" textLength="6.49" lengthAdjust="spacingAndGlyphs">8</text><rect x="490.13" y="568.70" width="1.6" height="1.7" fill="#404040"/><text x="495.88" y="570.4" font-size="14.4" fill="#404040" stroke="#404040" stroke-width="0.6" textLength="6.49" lengthAdjust="spacingAndGlyphs">0</text><text x="502.47" y="570.4" font-size="14.4" fill="#404040" stroke="#404040" stroke-width="0.6" textLength="6.49" lengthAdjust="spacingAndGlyphs">c</text><text x="509.06" y="570.4" font-size="14.4" fill="#404040" stroke="#404040" stroke-width="0.6" textLength="6.49" lengthAdjust="spacingAndGlyphs">m</text>
<rect x="89.3" y="0" width="2.5" height="583" fill="#484848"/>
<rect x="0" y="582.7" width="635.6" height="55" fill="#000"/>

</g>
<defs><filter id="soft" x="0" y="0" width="100%" height="100%"><feGaussianBlur stdDeviation="0.6"/></filter></defs>
</svg>
</body></html>
